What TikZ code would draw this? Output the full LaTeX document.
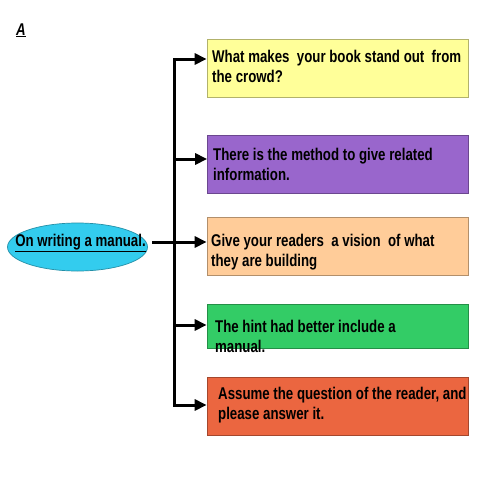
\documentclass[tikz,border=0pt]{standalone}
\usepackage{fontspec}
\setmainfont{Liberation Sans}
\newfontfamily\narrowfont[FakeStretch=0.78]{Liberation Sans}
\usetikzlibrary{arrows.meta, positioning, shapes.geometric, calc}
\definecolor{cyellow}{HTML}{FFFF99}
\definecolor{cpurple}{HTML}{9966CC}
\definecolor{cpeach}{HTML}{FFCC99}
\definecolor{cgreen}{HTML}{33CC66}
\definecolor{cred}{HTML}{EB6640}
\definecolor{ccyan}{HTML}{33CCEE}
\tikzset{
  every picture/.style={x=1pt, y=-1pt, font=\narrowfont\bfseries},
  box/.style={draw=#1!70!black, fill=#1, line width=0.7pt, minimum width=261pt, minimum height=58pt, inner sep=0pt},
  box/.default=cyellow,
  boxtext/.style={anchor=base west, inner sep=0pt, align=left, font=\narrowfont\bfseries\fontsize{17}{20}\selectfont},
  arrow/.style={-{Triangle[length=12pt, width=11pt]}, draw=black, line width=3pt},
  trunk/.style={draw=black, line width=3pt},
}
\begin{document}
\begin{tikzpicture}
  \useasboundingbox[fill=white] (0,0) rectangle (480,480);
  \node[anchor=base west, inner sep=0pt, font=\narrowfont\bfseries\itshape\fontsize{17}{18}\selectfont] (tag) at (16,35) {\underline{A}};
  % topic on the left
  \node[ellipse, draw=ccyan!70!black, fill=ccyan, line width=0.7pt, minimum width=140pt, minimum height=48pt, inner sep=0pt] (topic) at (77.5,247) {};
  \node[inner sep=0pt, font=\narrowfont\bfseries\fontsize{17}{18}\selectfont] (topictext) at (80.5,243) {\underline{On writing a manual.}};
  % boxes on the right
  \node[box=cyellow] (q1) at (337.5,68) {};
  \node[box=cpurple] (q2) at (338,164.5) {};
  \node[box=cpeach] (q3) at (337.5,246.5) {};
  \node[box=cgreen, minimum height=44pt] (q4) at (337.5,326) {};
  \node[box=cred] (q5) at (337.5,406) {};
  % anchored at the baseline of the second line
  \node[boxtext] (t1) at (212,82) {What makes\ \ your book stand out\ \ from\\the crowd?};
  \node[boxtext] (t2) at (213,180) {There is the method to give related\\information.};
  \node[boxtext] (t3) at (211,266) {Give your readers\ \ a vision\ \ of what\\they are building};
  \node[boxtext] (t4) at (215,352) {The hint had better include a\\manual.};
  \node[boxtext] (t5) at (218,419) {Assume the question of the reader, and\\please answer it.};
  % joints on the trunk
  \coordinate (j1) at (174,59);
  \coordinate (j2) at (174,159);
  \coordinate (j4) at (174,325);
  \coordinate (j5) at (174,405);
  \coordinate (s) at (152,242);
  \draw[trunk, line cap=rect] (j1) -- (j5);
  \foreach \j/\q in {j1/q1, j2/q2, j4/q4, j5/q5}
    \draw[arrow] (\j) -- (\j -| \q.west);
  \draw[arrow] (s) -- (s -| q3.west);
\end{tikzpicture}
\end{document}
